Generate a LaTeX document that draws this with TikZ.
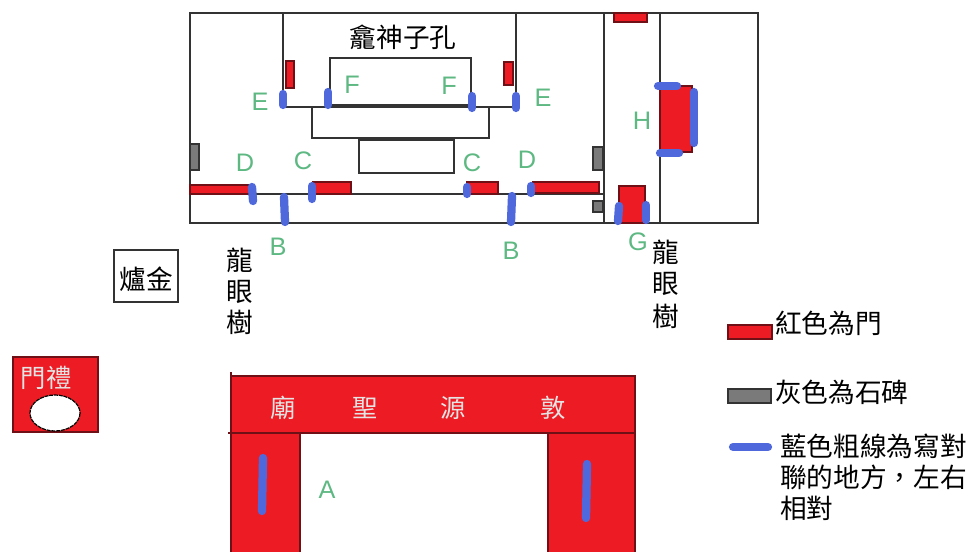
\documentclass[tikz,border=0pt]{standalone}
\usepackage{fontspec}
\setmainfont{Noto Sans CJK TC}
\newfontfamily\latinf{Liberation Sans}
\definecolor{doorred}{HTML}{ED1C24}
\definecolor{doorline}{HTML}{6E1015}
\definecolor{stonegray}{HTML}{7A7A7A}
\definecolor{markblue}{HTML}{4F69DC}
\definecolor{lettergreen}{HTML}{5DB882}
\definecolor{wallline}{HTML}{333333}
\tikzset{
  wall/.style={draw=wallline,line width=1pt},
  door/.style={fill=doorred,draw=doorline,line width=0.9pt},
  stone/.style={fill=stonegray,draw=wallline,line width=0.9pt},
  couplet/.style={draw=markblue,line width=6.2pt,line cap=round},
  letter/.style={text=lettergreen,font=\latinf\fontsize{19}{19}\selectfont,inner sep=0pt},
  han/.style={text=black,font=\fontsize{20}{20}\selectfont,inner sep=0pt},
  gatehan/.style={text=white!90!black,font=\fontsize{19}{19}\selectfont,inner sep=0pt},
}
\begin{document}
\begin{tikzpicture}[x=0.75pt,y=-0.75pt]
\useasboundingbox (0,0) rectangle (973,552);
% compound
\draw[wall] (190,13) rectangle (758,223);
\draw[wall] (604,13) -- (604,223);
\draw[wall] (660,13) -- (660,223);
\draw[wall] (283,13) -- (283,107) -- (516,107) -- (516,13);
\draw[wall] (330,58) rectangle (471,105);
\draw[wall] (312,107) rectangle (489,138);
\draw[wall] (359,140) rectangle (454,173);
\draw[wall] (190,194) -- (604,194);
% doors
\draw[door] (286,61) rectangle (294,88);
\draw[door] (504,62) rectangle (513,85);
\draw[door] (190,185) rectangle (250,194);
\draw[door] (313,182) rectangle (351,194);
\draw[door] (467,182) rectangle (498,194);
\draw[door] (533,182) rectangle (599,193);
\draw[door] (614,13) rectangle (647,22);
\draw[door] (619,186) rectangle (645,223);
\draw[door] (660,86) rectangle (692,152);
% stones
\draw[stone] (190,144) rectangle (199,170);
\draw[stone] (593,147) rectangle (603,170);
\draw[stone] (593,201) rectangle (603,212);
% couplet marks
\draw[couplet] (283,94) -- (283,105);
\draw[couplet] (328,92) -- (328,105);
\draw[couplet] (472,96) -- (472,108);
\draw[couplet] (516,96) -- (516,108);
\draw[couplet] (252,187) -- (253,201);
\draw[couplet] (284,197) -- (285,222);
\draw[couplet] (312,186) -- (312,199);
\draw[couplet] (467,187) -- (467,194);
\draw[couplet] (512,196) -- (511,222);
\draw[couplet] (531,186) -- (531,193);
\draw[couplet] (619,206) -- (618,221);
\draw[couplet] (646,205) -- (646,220);
\draw[couplet] (658,86) -- (677,86);
\draw[couplet] (660,153) -- (679,153);
\draw[couplet] (694,92) -- (694,143);
% letters
\node[letter] (le1) at (260,102) {E};
\node[letter] (lf1) at (352,85) {F};
\node[letter] (lf2) at (449,86) {F};
\node[letter] (le2) at (543,98) {E};
\node[letter] (ld1) at (245,163) {D};
\node[letter] (lc1) at (303,161) {C};
\node[letter] (lc2) at (472,163) {C};
\node[letter] (ld2) at (527,160) {D};
\node[letter] (lb1) at (278,247) {B};
\node[letter] (lb2) at (511,251) {B};
\node[letter] (lg) at (638,242) {G};
\node[letter] (lh) at (642,121) {H};
% title
\node[han] (title) at (403,37) {龕神子孔};
% trees
\node[han] (ta1) at (240,260) {龍};
\node[han] (ta2) at (240,292) {眼};
\node[han] (ta3) at (240,322) {樹};
\node[han] (tb1) at (666,252) {龍};
\node[han] (tb2) at (666,284) {眼};
\node[han] (tb3) at (666,316) {樹};
% burner
\draw[wall] (114,250) rectangle (178,302);
\node[han] (burner) at (146,279) {爐金};
% tablet
\draw[door] (13,357) rectangle (98,432);
\draw[fill=white,draw=black,line width=0.9pt,dash pattern=on 3pt off 0.6pt] (55,413) ellipse (25 and 18);
\node[gatehan] (tablet) at (46,378) {門禮};
% gate
\fill[doorred] (231,376) rectangle (635,433);
\fill[doorred] (231,433) rectangle (300,552);
\fill[doorred] (548,433) rectangle (635,552);
\draw[door,fill=none] (231,372) -- (231,552);
\draw[door,fill=none] (231,376) -- (635,376) -- (635,552);
\draw[door,fill=none] (228,433) -- (635,433);
\draw[door,fill=none] (300,433) -- (300,552);
\draw[door,fill=none] (548,433) -- (548,552);
\draw[couplet] (263,458) -- (262,511);
\draw[couplet] (587,464) -- (586,518);
\node[gatehan] (g1) at (283,408) {廟};
\node[gatehan] (g2) at (365,408) {聖};
\node[gatehan] (g3) at (453,408) {源};
\node[gatehan] (g4) at (553,408) {敦};
\node[letter] (la) at (327,490) {A};
% legend
\draw[door] (728,325) rectangle (772,339);
\node[han,anchor=west] (k1) at (775,323) {紅色為門};
\draw[stone] (728,389) rectangle (771,403);
\node[han,anchor=west] (k2) at (775,392) {灰色為石碑};
\draw[couplet] (733,447) -- (768,447);
\node[han,anchor=west] (k3) at (780,446) {藍色粗線為寫對};
\node[han,anchor=west] (k4) at (780,477) {聯的地方，左右};
\node[han,anchor=west] (k5) at (780,508) {相對};
\end{tikzpicture}
\end{document}
